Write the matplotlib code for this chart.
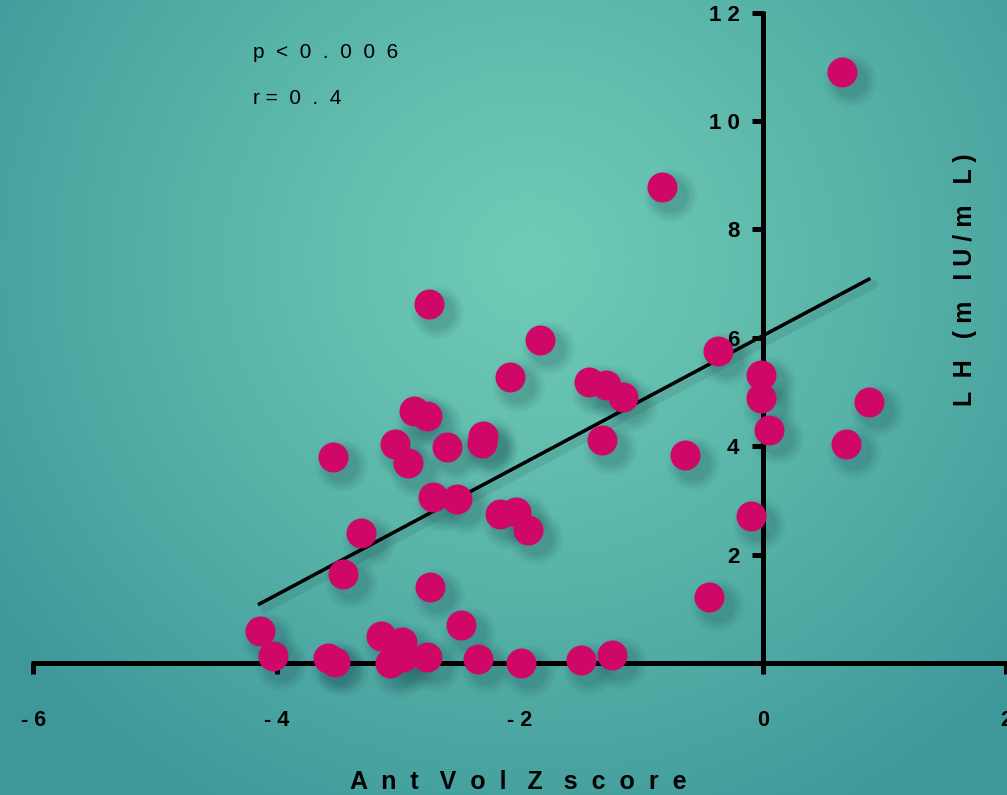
import numpy as np
import matplotlib
matplotlib.use("Agg")
import matplotlib.pyplot as plt
from matplotlib.transforms import offset_copy

# ---- data ----
z_score = [0.65, -0.83, -2.75, -1.83, -0.37, -2.08, -1.43, -1.29, -1.15, -0.02,
           -0.02, 0.87, -2.87, -2.76, 0.05, 0.68, -2.30, -2.31, -2.60, -3.03,
           -2.92, -3.54, -1.32, -0.64, -2.71, -2.52, -2.16, -2.03, -1.93, -3.31,
           -0.10, -3.45, -2.74, -0.44, -4.14, -2.48, -4.03, -3.14, -2.97, -3.58,
           -3.52, -3.07, -2.96, -2.76, -2.34, -1.99, -1.50, -1.24]
lh = [10.90, 8.78, 6.62, 5.96, 5.76, 5.28, 5.18, 5.13, 4.91, 5.31,
      4.89, 4.82, 4.65, 4.56, 4.30, 4.04, 4.19, 4.06, 3.99, 4.04,
      3.69, 3.80, 4.11, 3.84, 3.06, 3.03, 2.75, 2.79, 2.45, 2.40,
      2.71, 1.65, 1.40, 1.22, 0.59, 0.70, 0.13, 0.50, 0.39, 0.09,
      0.02, 0.00, 0.11, 0.11, 0.07, 0.00, 0.06, 0.15]
fit_x = [-4.14, 0.87]
fit_y = [1.09, 7.08]
xticks = [-6, -4, -2, 0, 2]
xtick_labels = ["- 6", "- 4", "- 2", "0", "2"]
yticks = [0, 2, 4, 6, 8, 10, 12]
ytick_labels = ["", "2", "4", "6", "8", "1 0", "1 2"]
xlabel = "A  n  t   V  o  l   Z   s  c  o  r  e"
ylabel = "L  H   ( m   I U / m   L )"
stat_p = "p  <  0  .  0  0  6"
stat_r = "r =  0  .  4"

plt.rcParams['font.family'] = ['Liberation Sans', 'DejaVu Sans']

W, H = 1007, 795
fig = plt.figure(figsize=(W / 100, H / 100), dpi=100)
ax = fig.add_axes([0, 0, 1, 1])
XL = (-763 / 121.6, (1007 - 763) / 121.6)
YL = ((663 - 795) / 54.2, 663 / 54.2)
ax.set_xlim(*XL)
ax.set_ylim(*YL)

# background gradient
yy, xx = np.mgrid[0:H, 0:W]
d = np.sqrt(((xx - 530) / 660.0) ** 2 + ((yy - 260) / 640.0) ** 2)
t = np.clip(d, 0, 1) ** 1.1
c0 = np.array([112, 204, 182]) / 255.0
c1 = np.array([62, 152, 154]) / 255.0
img = c0[None, None, :] * (1 - t[..., None]) + c1[None, None, :] * t[..., None]
ax.imshow(img, extent=(XL[0], XL[1], YL[0], YL[1]), aspect='auto', zorder=0,
          interpolation='bilinear')

# shadows
for sz, a in [(54, 0.04), (49, 0.05), (44, 0.06), (39, 0.07), (34, 0.08)]:
    tr = offset_copy(ax.transData, fig=fig, x=8, y=-8, units='dots')
    ax.scatter(z_score, lh, s=(sz * 0.72) ** 2, color='#1d4f55', alpha=a,
               linewidths=0, transform=tr, zorder=1)
tr_line = offset_copy(ax.transData, fig=fig, x=5, y=-5, units='dots')
ax.plot(fit_x, fit_y, color='#1d4f55', alpha=0.15, lw=6, transform=tr_line,
        zorder=1, solid_capstyle='round')

# axes spines
for s in ['top', 'right']:
    ax.spines[s].set_visible(False)
ax.spines['bottom'].set_position(('data', 0))
ax.spines['left'].set_position(('data', 0))
ax.spines['bottom'].set_bounds(-6.02, XL[1])
ax.spines['left'].set_bounds(0, 12.03)
for s in ['bottom', 'left']:
    ax.spines[s].set_linewidth(3.6)
    ax.spines[s].set_zorder(2)
    ax.spines[s].set_capstyle('butt')

ax.set_xticks(xticks)
ax.set_xticklabels(xtick_labels)
ax.set_yticks(yticks)
ax.set_yticklabels(ytick_labels)
ax.tick_params(axis='both', direction='out', length=8, width=3.6, color='black')
ax.tick_params(axis='x', pad=26, labelsize=15.5)
ax.tick_params(axis='y', pad=9, labelsize=16)
for lab in ax.get_xticklabels() + ax.get_yticklabels():
    lab.set_fontweight('bold')

# fit line
ax.plot(fit_x, fit_y, color='black', lw=2.6, zorder=3)

# points
ax.scatter(z_score, lh, s=(30 * 0.72) ** 2, color='#cf0868', linewidths=0, zorder=4)

# labels
ax.text((518 - 763) / 121.6, (663 - 782) / 54.2, xlabel, ha='center', va='center',
        fontsize=18, fontweight='bold')
ax.text((965 - 763) / 121.6, (663 - 280) / 54.2, ylabel, ha='center', va='center',
        fontsize=18, fontweight='bold', rotation=90)
ax.text((253 - 763) / 121.6, (663 - 52) / 54.2, stat_p, ha='left', va='center',
        fontsize=15)
ax.text((253 - 763) / 121.6, (663 - 99) / 54.2, stat_r, ha='left', va='center',
        fontsize=15)

fig.savefig('out.png', dpi=100)
